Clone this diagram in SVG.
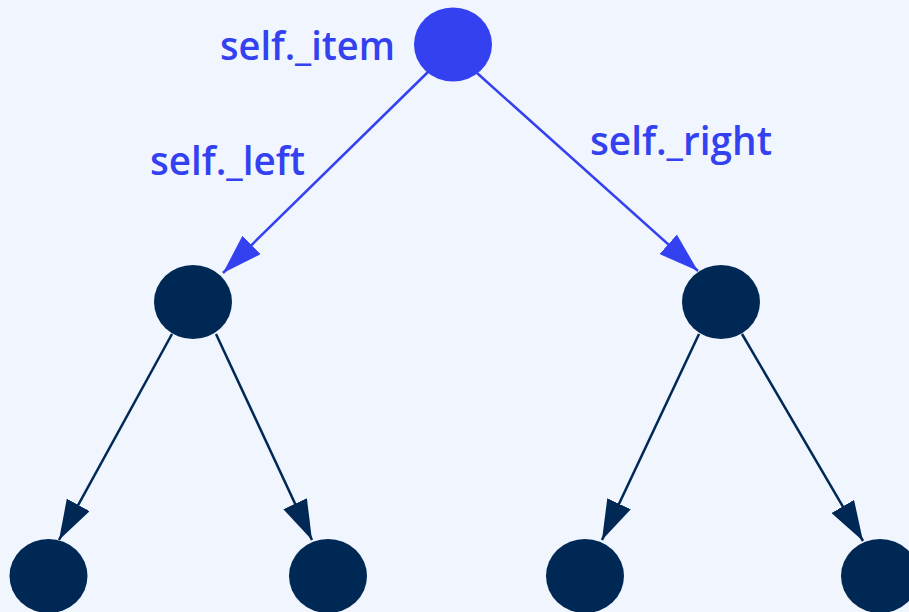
<svg xmlns="http://www.w3.org/2000/svg" width="909" height="612" viewBox="0 0 909 612">
<style>
.blue{fill:#3341F0}
.dark{fill:#002855}
.eb{stroke:#3341F0;stroke-width:2.5;fill:none}
.ed{stroke:#002855;stroke-width:2.5;fill:none}
.lbl{font-family:"Open Sans",Lato,sans-serif;font-weight:600;font-size:39px;fill:#3341F0}
</style>
<defs>
<marker id="ab" markerUnits="userSpaceOnUse" markerWidth="40" markerHeight="26" refX="40" refY="13" orient="auto"><path d="M0,0 L40,13 L0,26 z" fill="#3341F0"/></marker>
<marker id="ad" markerUnits="userSpaceOnUse" markerWidth="40" markerHeight="26" refX="40" refY="13" orient="auto"><path d="M0,0 L40,13 L0,26 z" fill="#002855"/></marker>
</defs>
<rect width="909" height="612" fill="#F0F5FE"/>
<g id="connectors">
<line class="eb" x1="428" y1="72" x2="223" y2="273" marker-end="url(#ab)"/>
<line class="eb" x1="477" y1="73" x2="698" y2="271" marker-end="url(#ab)"/>
<line class="ed" x1="172" y1="334" x2="59" y2="540" marker-end="url(#ad)"/>
<line class="ed" x1="216" y1="334" x2="312" y2="540" marker-end="url(#ad)"/>
<line class="ed" x1="699" y1="334" x2="602" y2="540" marker-end="url(#ad)"/>
<line class="ed" x1="742" y1="334" x2="863" y2="541" marker-end="url(#ad)"/>
</g>
<g id="root"><ellipse class="blue" cx="453" cy="44.5" rx="39" ry="37"/></g>
<g id="left"><ellipse class="dark" cx="193" cy="302" rx="39" ry="37"/></g>
<g id="right"><ellipse class="dark" cx="721" cy="302" rx="39" ry="37"/></g>
<g id="ll"><ellipse class="dark" cx="48.5" cy="576" rx="39" ry="37"/></g>
<g id="lr"><ellipse class="dark" cx="328" cy="576" rx="39" ry="37"/></g>
<g id="rl"><ellipse class="dark" cx="585" cy="576" rx="39" ry="37"/></g>
<g id="rr"><ellipse class="dark" cx="880" cy="576" rx="39" ry="37"/></g>
<g id="labels">
<text class="lbl" x="220" y="60" textLength="175" lengthAdjust="spacingAndGlyphs">self._item</text>
<text class="lbl" x="150" y="175" textLength="155" lengthAdjust="spacingAndGlyphs">self._left</text>
<text class="lbl" x="590" y="155" textLength="182" lengthAdjust="spacingAndGlyphs">self._right</text>
</g>
</svg>
